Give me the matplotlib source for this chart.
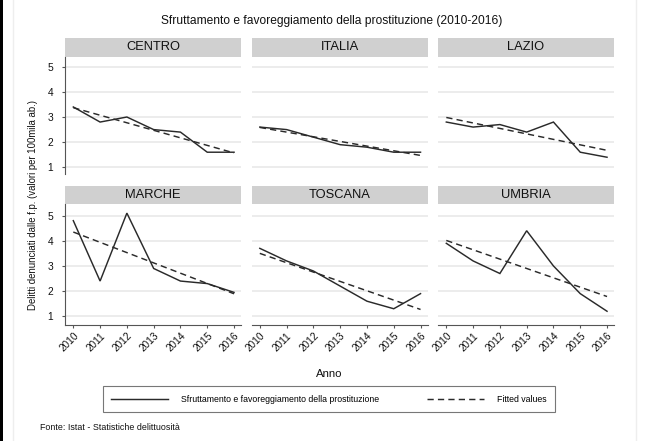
import numpy as np
import matplotlib
matplotlib.use("Agg")
import matplotlib.pyplot as plt
from matplotlib.lines import Line2D

plt.rcParams['font.family'] = ['Liberation Sans', 'DejaVu Sans']
plt.rcParams['lines.scale_dashes'] = False

# ---------------- data ----------------
years = [2010, 2011, 2012, 2013, 2014, 2015, 2016]
regions = ["CENTRO", "ITALIA", "LAZIO", "MARCHE", "TOSCANA", "UMBRIA"]
centro = [3.4, 2.8, 3.0, 2.5, 2.4, 1.6, 1.6]
italia = [2.6, 2.5, 2.2, 1.9, 1.8, 1.6, 1.6]
lazio = [2.8, 2.6, 2.7, 2.4, 2.8, 1.6, 1.4]
marche = [4.8, 2.4, 5.1, 2.9, 2.4, 2.3, 1.95]
toscana = [3.7, 3.2, 2.8, 2.2, 1.6, 1.3, 1.9]
umbria = [3.9, 3.2, 2.7, 4.4, 3.0, 1.9, 1.2]
series = [centro, italia, lazio, marche, toscana, umbria]
yticks = [1, 2, 3, 4, 5]

title = "Sfruttamento e favoreggiamento della prostituzione (2010-2016)"
ylabel = "Delitti denunciati dalle f.p. (valori per 100mila ab.)"
xlabel = "Anno"
leg_labels = ["Sfruttamento e favoreggiamento della prostituzione", "Fitted values"]
source = "Fonte: Istat - Statistiche delittuosità"

# ---------------- layout ----------------
W, H = 664, 441
fig = plt.figure(figsize=(W / 100, H / 100), dpi=100)
fig.patch.set_facecolor("white")


def box(x0, y0, x1, y1):
    return [x0 / W, 1 - y1 / H, (x1 - x0) / W, (y1 - y0) / H]


# frame decorations
fig.add_artist(plt.Rectangle((0, 0), 2.5 / W, 1, transform=fig.transFigure,
                             color="black", lw=0))
for xv in (13, 636):
    fig.add_artist(Line2D([xv / W, xv / W], [0, 1], transform=fig.transFigure,
                          color="#eeeeee", lw=1))

col_x = [65, 251.5, 438]
pw = 176
rows = [(38, 56.7, 174, (0.733, 5.40)), (185.7, 204.3, 325, (0.654, 5.45))]

LINE_C = "#2a2a2a"
STRIP_C = "#d0d0d0"
GRID_C = "#ebebeb"
SPINE_C = "#555555"

for i, (name, vals) in enumerate(zip(regions, series)):
    r, c = divmod(i, 3)
    st, sb, ab, ylim = rows[r]
    x0 = col_x[c]
    # strip
    sax = fig.add_axes(box(x0, st, x0 + pw, sb))
    sax.set_facecolor(STRIP_C)
    for s in sax.spines.values():
        s.set_visible(False)
    sax.set_xticks([])
    sax.set_yticks([])
    sax.text(0.5, 0.5, name, ha="center", va="center", fontsize=9.3,
             transform=sax.transAxes, color="#111111")
    # panel
    ax = fig.add_axes(box(x0, sb, x0 + pw, ab))
    ax.set_xlim(2009.69, 2016.26)
    ax.set_ylim(*ylim)
    for s in ax.spines.values():
        s.set_visible(False)
    ax.set_yticks(yticks)
    ax.yaxis.grid(True, color=GRID_C, lw=1.3)
    ax.set_axisbelow(True)
    ax.plot(years, vals, color=LINE_C, lw=1.05, solid_joinstyle="miter")
    slope, icpt = np.polyfit(years, vals, 1)
    fitted = np.polyval([slope, icpt], years)
    ax.plot(years, fitted, color=LINE_C, lw=1.05, dashes=(4.5, 3))
    ax.set_xticks(years)
    if c == 0:
        ax.spines["left"].set_visible(True)
        ax.spines["left"].set_color(SPINE_C)
        ax.spines["left"].set_linewidth(0.8)
        ax.tick_params(axis="y", length=2.5, width=0.8, color=SPINE_C,
                       labelsize=7.4, pad=6, labelcolor="#111111")
    else:
        ax.tick_params(axis="y", left=False, labelleft=False)
    if r == 1:
        ax.spines["bottom"].set_visible(True)
        ax.spines["bottom"].set_color(SPINE_C)
        ax.spines["bottom"].set_linewidth(0.8)
        ax.tick_params(axis="x", length=2.5, width=0.8, color=SPINE_C,
                       labelsize=7.2, pad=1.5, labelcolor="#111111")
        ax.set_xticklabels([str(y) for y in years], rotation=45, ha="right",
                           rotation_mode="anchor")
    else:
        ax.tick_params(axis="x", bottom=False, labelbottom=False)

# texts
fig.text(332 / W, 1 - 21 / H, title, ha="center", va="center", fontsize=8.65,
         color="#111111")
fig.text(33 / W, 1 - 205 / H, ylabel, rotation=90, ha="center", va="center",
         fontsize=6.9, color="#111111")
fig.text(329 / W, 1 - 374 / H, xlabel, ha="center", va="center", fontsize=8.2,
         color="#111111")
fig.text(40 / W, 1 - 427 / H, source, ha="left", va="center", fontsize=6.4,
         color="#111111")

# legend
handles = [Line2D([], [], color=LINE_C, lw=1.05),
           Line2D([], [], color=LINE_C, lw=1.05, dashes=(4.5, 3))]
lb = box(102.7, 384.3, 555, 414)
leg = fig.legend(handles, leg_labels, loc="center", ncol=2, mode="expand",
                 bbox_to_anchor=(lb[0], lb[1], lb[2], lb[3]),
                 bbox_transform=fig.transFigure, fontsize=6.3,
                 handlelength=6.5, handletextpad=1.5, borderaxespad=0,
                 frameon=True, fancybox=False, borderpad=1.0)
leg.get_frame().set_edgecolor("#555555")
leg.get_frame().set_linewidth(0.8)

fig.savefig("out.png", dpi=100, facecolor="white")
